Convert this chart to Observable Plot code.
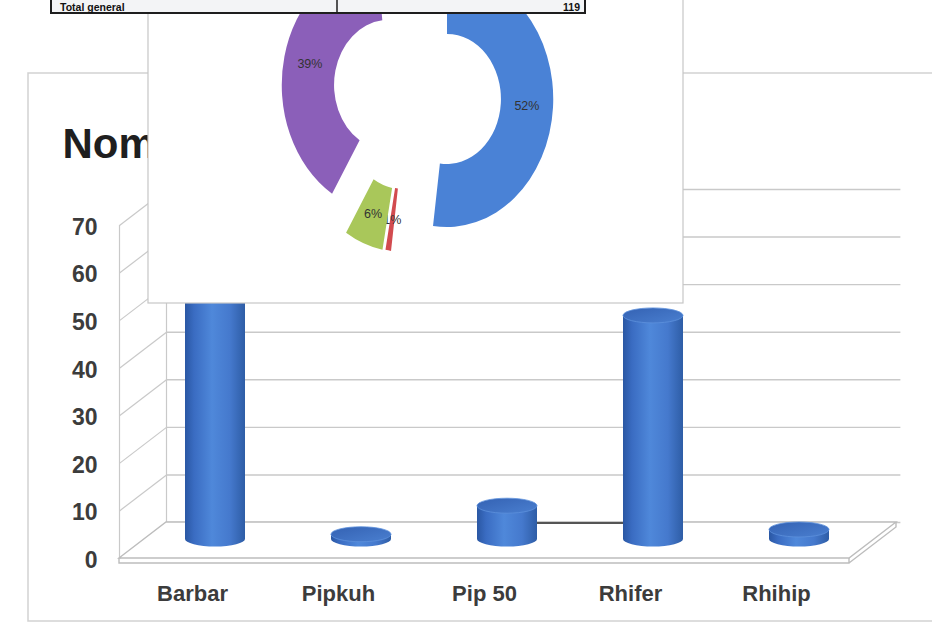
<!DOCTYPE html>
<html><head><meta charset="utf-8">
<script src="https://cdn.jsdelivr.net/npm/d3@7"></script>
<script src="https://cdn.jsdelivr.net/npm/@observablehq/plot@0.6"></script>
<style>html,body{margin:0;padding:0;background:#fff;}svg{display:block}</style>
</head><body><div id="chart"></div>
<script>
// ---- data ----
const categories = ["Barbar", "Pipkuh", "Pip 50", "Rhifer", "Rhihip"];
const counts = [62, 1, 7, 47, 2];
const yTicks = [0, 10, 20, 30, 40, 50, 60, 70];
const sliceColors = ["#4a82d6", "#d24b4f", "#a9c75a", "#8b5fb9", "#4bacc6"];
const titleText = "Nom";
const tableLabel = "Total general";

const data = categories.map((c, i) => ({category: c, index: i, count: counts[i]}));
const total = d3.sum(counts);

// ---- layout / style ----
const FONT = "'Liberation Sans', Arial, sans-serif";
const X_RANGE = [119, 849], Y_RANGE = [558, 225];
const PX_X = (X_RANGE[1] - X_RANGE[0]) / 5, PX_Y = (Y_RANGE[0] - Y_RANGE[1]) / 70;
const DEPTH_PX = [47, -36];
const depthX = DEPTH_PX[0] / PX_X, depthY = -DEPTH_PX[1] / PX_Y;
const BAR_SHIFT = [23, -19];
const BAR_R = 30, BAR_RY = 7.5;
const GRID = "#c9c9c9";
const DONUT = {cx: 447, cy: 99, ri: 65, ro: 128, sx: 0.83};
const EXPLODE = [[0, 0], [-42, 25], [-45, 25], [-59, -14], [-3, -70]];

function chartCard() {
  const g = d3.create("svg:g");
  g.append("rect").attr("x", 28).attr("y", 73).attr("width", 940).attr("height", 548)
    .attr("fill", "#fff").attr("stroke", "#d2d2d2").attr("stroke-width", 1.5);
  return g.node();
}

function floor(index, s) {
  const g = d3.create("svg:g").attr("fill", "none").attr("stroke", "#bdbdbd").attr("stroke-width", 1.4);
  const x0 = s.x(-0.5), x1 = s.x(4.5), y0 = s.y(0);
  const [dx, dy] = DEPTH_PX, t = 5;
  g.append("path").attr("fill", "#fff").attr("d", `M${x0},${y0}L${x1},${y0}L${x1 + dx},${y0 + dy}L${x0 + dx},${y0 + dy}Z`);
  g.append("path").attr("d", `M${x0},${y0}L${x0},${y0 + t}L${x1},${y0 + t}L${x1},${y0}M${x1},${y0 + t}L${x1 + dx},${y0 + dy + t}L${x1 + dx},${y0 + dy}`);
  return g.node();
}

function cylinders(index, s) {
  const g = d3.create("svg:g");
  const defs = g.append("defs");
  const body = defs.append("linearGradient").attr("id", "cylBody").attr("x1", 0).attr("x2", 1).attr("y1", 0).attr("y2", 0);
  [[0, "#2a57a3"], [0.15, "#3a6cc2"], [0.45, "#4f88da"], [0.75, "#4579cd"], [1, "#2e5da6"]]
    .forEach(([o, c]) => body.append("stop").attr("offset", o).attr("stop-color", c));
  const top = defs.append("linearGradient").attr("id", "cylTop").attr("x1", 0).attr("x2", 1).attr("y1", 0).attr("y2", 1);
  [[0, "#3462b3"], [1, "#4a7fd0"]].forEach(([o, c]) => top.append("stop").attr("offset", o).attr("stop-color", c));
  // connector segment on back wall between Pip 50 and Rhifer
  const yBack = s.y(0) + DEPTH_PX[1];
  g.append("line").attr("x1", s.x(2) + BAR_SHIFT[0] + BAR_R).attr("x2", s.x(3) + BAR_SHIFT[0] - BAR_R)
    .attr("y1", yBack + 1).attr("y2", yBack + 1).attr("stroke", "#555").attr("stroke-width", 2);
  for (const d of data) {
    const cx = s.x(d.index) + BAR_SHIFT[0];
    const yb = s.y(0) + BAR_SHIFT[1];
    const yt = s.y(d.count) + BAR_SHIFT[1];
    g.append("path").attr("fill", "url(#cylBody)")
      .attr("d", `M${cx - BAR_R},${yt}L${cx - BAR_R},${yb}A${BAR_R},${BAR_RY} 0 0 0 ${cx + BAR_R},${yb}L${cx + BAR_R},${yt}Z`);
    g.append("ellipse").attr("cx", cx).attr("cy", yt).attr("rx", BAR_R).attr("ry", BAR_RY)
      .attr("fill", "url(#cylTop)").attr("stroke", "#5d91dc").attr("stroke-width", 0.8);
  }
  return g.node();
}

function donut() {
  const g = d3.create("svg:g");
  g.append("rect").attr("x", 148).attr("y", -6).attr("width", 535).attr("height", 309)
    .attr("fill", "#fff").attr("stroke", "#c6c6c6").attr("stroke-width", 1.2);
  const pie = d3.pie().sort(null).value(d => d.count)(data);
  const arc = d3.arc().innerRadius(DONUT.ri).outerRadius(DONUT.ro);
  const dg = g.append("g").attr("transform", `translate(${DONUT.cx},${DONUT.cy})`);
  pie.forEach((p, i) => {
    const [ox, oy] = EXPLODE[i];
    dg.append("path").attr("transform", `translate(${ox},${oy}) scale(${DONUT.sx},1)`)
      .attr("d", arc(p)).attr("fill", sliceColors[i]);
    const [lx, ly] = arc.centroid(p);
    if (DONUT.cy + oy + ly < 16) return; // label falls outside the visible page
    dg.append("text").attr("x", ox + lx * DONUT.sx).attr("y", oy + ly).attr("dy", "0.35em")
      .attr("text-anchor", "middle").attr("font-size", 12.5).attr("font-family", FONT)
      .attr("fill", "#333").text(Math.round(p.data.count / total * 100) + "%");
  });
  return g.node();
}

function table() {
  const g = d3.create("svg:g");
  g.append("rect").attr("x", 51).attr("y", -30).attr("width", 534).attr("height", 43)
    .attr("fill", "#f3f4f6").attr("stroke", "#1e1e1e").attr("stroke-width", 2);
  g.append("line").attr("x1", 337).attr("x2", 337).attr("y1", -30).attr("y2", 13)
    .attr("stroke", "#1e1e1e").attr("stroke-width", 1.5);
  g.append("text").attr("x", 60).attr("y", 11).attr("font-size", 10.5).attr("font-weight", "bold")
    .attr("text-anchor", "start").attr("font-family", FONT).attr("fill", "#111").text(tableLabel);
  g.append("text").attr("x", 580).attr("y", 11).attr("font-size", 10.5).attr("font-weight", "bold")
    .attr("text-anchor", "end").attr("font-family", FONT).attr("fill", "#111").text(total);
  return g.node();
}

const chart = Plot.plot({
  width: 932, height: 625, margin: 0,
  style: {background: "#fff", fontFamily: FONT},
  x: {type: "linear", domain: [-0.5, 4.5], range: X_RANGE, axis: null},
  y: {type: "linear", domain: [0, 70], range: Y_RANGE, axis: null},
  marks: [
    chartCard,
    Plot.text([titleText], {frameAnchor: "top-left", dx: 62, dy: 128, fontSize: 42, fontWeight: "bold",
      fill: "#1f1f1f", textAnchor: "start", text: d => d}),
    // back wall gridlines
    Plot.ruleY(yTicks, {y: d => d + depthY, x1: -0.5 + depthX, x2: 4.5 + depthX + 0.03, stroke: GRID, strokeWidth: 1.4}),
    // side wall
    Plot.link(yTicks, {x1: -0.5, y1: d => d, x2: -0.5 + depthX, y2: d => d + depthY, stroke: GRID, strokeWidth: 1.2}),
    Plot.ruleX([-0.5], {y1: 0, y2: 70, stroke: GRID, strokeWidth: 1.2}),
    Plot.ruleX([-0.5 + depthX], {y1: depthY, y2: 70 + depthY, stroke: GRID, strokeWidth: 1.2}),
    floor,
    cylinders,
    Plot.text(yTicks, {x: -0.5, y: d => d, dx: -22, dy: 2, textAnchor: "end", fontSize: 23,
      fontWeight: "bold", fill: "#3c3c3c", text: d => String(d)}),
    Plot.text(data, {x: "index", y: 0, dy: 35, text: "category", fontSize: 22, fontWeight: "bold", fill: "#3c3c3c"}),
    donut,
    table
  ]
});
document.getElementById("chart").append(chart);
</script>
</body></html>
